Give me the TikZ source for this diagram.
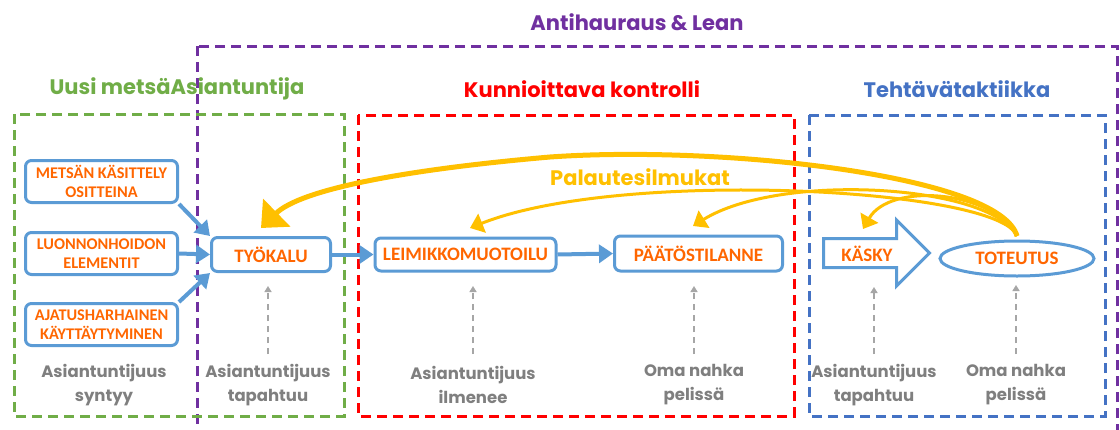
\documentclass[tikz,border=0pt]{standalone}
\usepackage{fontspec}
\setmainfont{Carlito}
\newfontfamily\berlin{Poppins Bold}
\usetikzlibrary{arrows.meta,shapes.geometric}
\definecolor{orangeT}{HTML}{FF6600}
\definecolor{boxblue}{HTML}{5B9BD5}
\definecolor{frgreen}{HTML}{70AD47}
\definecolor{frred}{HTML}{FF0000}
\definecolor{frblue}{HTML}{4472C4}
\definecolor{frpurple}{HTML}{7030A0}
\definecolor{gold}{HTML}{FFC000}
\definecolor{grayT}{HTML}{7F7F7F}
\definecolor{grayA}{HTML}{A6A6A6}
\begin{document}
\begin{tikzpicture}[x=1pt,y=-1pt,
  frame/.style={line width=3pt, dash pattern=on 10pt off 6pt},
  rbox/.style={draw=boxblue, line width=3pt, rounded corners=6pt, fill=white, text=orangeT,
     font=\bfseries\fontsize{19}{22}\selectfont, inner sep=0pt, align=center},
  sbox/.style={rbox, font=\bfseries\fontsize{16.3}{19.5}\selectfont, minimum width=152pt, minimum height=42pt},
  flow/.style={draw=boxblue, line width=4pt, -{Triangle[length=14pt,width=18pt]}},
  fb/.style={draw=gold, line width=3pt, -{Triangle[length=13pt,width=20pt]}},
  fbbig/.style={draw=gold, line width=5pt, -{Triangle[length=22pt,width=38pt]}},
  hint/.style={draw=grayA, line width=2pt, dash pattern=on 6pt off 5pt, -{Triangle[length=6pt,width=7pt]}},
  lbl/.style={text=grayT, font=\berlin\fontsize{16.5}{24}\selectfont, align=center},
  ttl/.style={font=\berlin\fontsize{21}{26}\selectfont}]
\useasboundingbox (0,0) rectangle (1120,429);
\fill[white] (0,0) rectangle (1120,429);
\begin{scope}
\clip (0,0) rectangle (1120,429);
% frames
\draw[frame, frpurple] (197,46) rectangle (1117,460);
\draw[frame, frgreen] (14,114) rectangle (344,416);
\draw[frame, frred] (358,115) rectangle (794,416);
\draw[frame, frblue] (809,115) rectangle (1105,416);
\end{scope}
% titles
\node[ttl, text=frpurple] (t0) at (637,22) {Antihauraus \& Lean};
\node[ttl, text=frgreen] (t1) at (177,89) {Uusi metsäAsiantuntija};
\node[ttl, text=frred] (t2) at (582,89) {Kunnioittava kontrolli};
\node[ttl, text=frblue] (t3) at (957,89) {Tehtävätaktiikka};
% nodes
\node[sbox] (metsan) at (101.5,181.5) {METSÄN KÄSITTELY\\OSITTEINA};
\node[sbox] (luonto) at (101.5,253.5) {LUONNONHOIDON\\ELEMENTIT};
\node[sbox] (ajatus) at (101.5,324.5) {AJATUSHARHAINEN\\KÄYTTÄYTYMINEN};
\node[rbox, minimum width=119pt, minimum height=34pt] (tyokalu) at (271,254.5) {TYÖKALU};
\node[rbox, minimum width=181pt, minimum height=33pt] (leimikko) at (465.5,254.5) {LEIMIKKOMUOTOILU};
\node[rbox, minimum width=168pt, minimum height=35pt] (paatos) at (698.5,253.5) {PÄÄTÖSTILANNE};
\draw[draw=boxblue, line width=3pt, line join=miter]
  (823.5,238.5) -- (896.5,238.5) -- (896.5,220) -- (929.5,253) -- (896.5,286) -- (896.5,267.5) -- (823.5,267.5) -- cycle;
\node[text=orangeT, font=\bfseries\fontsize{19}{22}\selectfont] (kasky) at (867,254) {KÄSKY};
\node[ellipse, draw=boxblue, line width=3pt, fill=white, text=orangeT, inner sep=0pt,
  minimum width=154pt, minimum height=35pt, font=\bfseries\fontsize{19}{22}\selectfont] (toteutus) at (1017,258.5) {TOTEUTUS};
% flow arrows
\draw[flow] (metsan.south east) -- (tyokalu.north west);
\draw[flow] (luonto.east) -- (tyokalu.west);
\draw[flow] (ajatus.north east) -- (tyokalu.south west);
\draw[flow] (tyokalu.east) -- (leimikko.west);
\draw[flow] (leimikko.east) -- (paatos.west);
% feedback loops
\coordinate (src) at (1017,236);
\coordinate (mid) at (550,157);
\draw[fbbig] (src) .. controls (1000,175) and (720,145) .. (mid) .. controls (400,170) and (300,190) .. (261,228);
\draw[fb] (src) .. controls (1000,188) and (620,168) .. (470,228);
\draw[fb] (src) .. controls (990,184) and (780,172) .. (693,226);
\draw[fb] (src) .. controls (992,190) and (890,182) .. (863,229);
\node[ttl, text=gold] (pal) at (640,177) {Palautesilmukat};
% bottom labels
\node[lbl] (l1) at (104,385) {Asiantuntijuus\\syntyy};
\node[lbl] (l2) at (268,385) {Asiantuntijuus\\tapahtuu};
\node[lbl] (l3) at (473,385) {Asiantuntijuus\\ilmenee};
\node[lbl] (l4) at (694,385) {Oma nahka\\pelissä};
\node[lbl] (l5) at (874,385) {Asiantuntijuus\\tapahtuu};
\node[lbl] (l6) at (1016,385) {Oma nahka\\pelissä};
% hint arrows
\coordinate (h2) at (268,354);
\coordinate (h3) at (473,354);
\coordinate (h4) at (694,354);
\coordinate (h5) at (874,354);
\coordinate (h6) at (1016,354);
\draw[hint] (h2) -- (268,286);
\draw[hint] (h3) -- (473,286);
\draw[hint] (h4) -- (694,286);
\draw[hint] (h5) -- (874,287);
\draw[hint] (h6) -- (1016,285);
\end{tikzpicture}
\end{document}
